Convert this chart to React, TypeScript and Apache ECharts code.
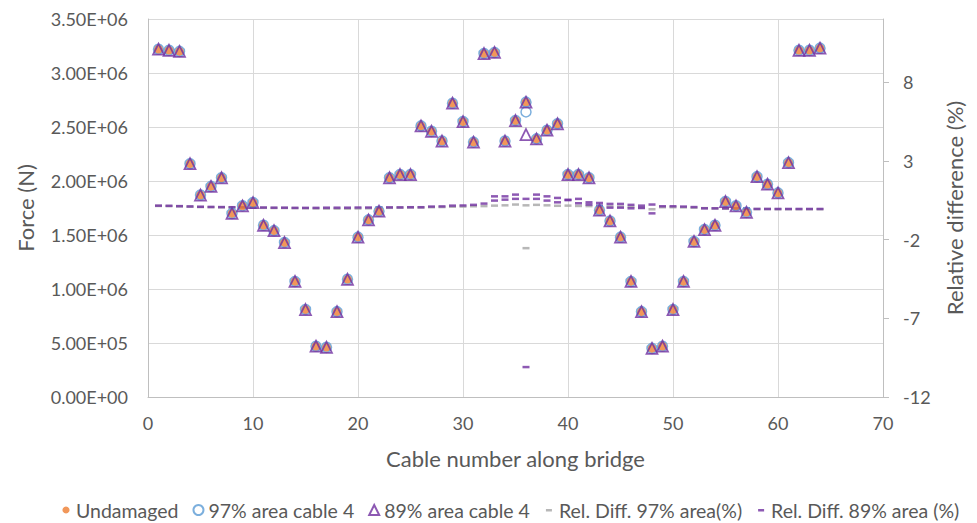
import React, { useEffect, useRef } from "react";
import * as echarts from "echarts";

// Cable numbers along the bridge
const cableNumbers = [
  1, 2, 3, 4, 5, 6, 7, 8, 9, 10, 11, 12, 13, 14, 15, 16,
  17, 18, 19, 20, 21, 22, 23, 24, 25, 26, 27, 28, 29, 30, 31, 32,
  33, 34, 35, 36, 37, 38, 39, 40, 41, 42, 43, 44, 45, 46, 47, 48,
  49, 50, 51, 52, 53, 54, 55, 56, 57, 58, 59, 60, 61, 62, 63, 64,
];

// Cable forces (N)
const forceUndamaged = [
  3.22e6, 3.21e6, 3.2e6, 2.16e6, 1.87e6, 1.95e6, 2.03e6, 1.7e6, 1.77e6, 1.8e6, 1.59e6, 1.54e6, 1.43e6, 1.07e6, 0.81e6, 0.47e6,
  0.46e6, 0.79e6, 1.09e6, 1.48e6, 1.64e6, 1.72e6, 2.03e6, 2.06e6, 2.06e6, 2.51e6, 2.46e6, 2.37e6, 2.72e6, 2.55e6, 2.36e6, 3.18e6,
  3.19e6, 2.37e6, 2.56e6, 2.73e6, 2.39e6, 2.47e6, 2.53e6, 2.06e6, 2.06e6, 2.03e6, 1.73e6, 1.63e6, 1.48e6, 1.07e6, 0.79e6, 0.45e6,
  0.47e6, 0.81e6, 1.07e6, 1.44e6, 1.55e6, 1.59e6, 1.81e6, 1.77e6, 1.71e6, 2.04e6, 1.97e6, 1.89e6, 2.17e6, 3.21e6, 3.21e6, 3.23e6,
];
const force97 = [
  3.22e6, 3.21e6, 3.2e6, 2.16e6, 1.87e6, 1.95e6, 2.03e6, 1.7e6, 1.77e6, 1.8e6, 1.59e6, 1.54e6, 1.43e6, 1.07e6, 0.81e6, 0.47e6,
  0.46e6, 0.79e6, 1.09e6, 1.48e6, 1.64e6, 1.72e6, 2.03e6, 2.06e6, 2.06e6, 2.51e6, 2.46e6, 2.37e6, 2.72e6, 2.55e6, 2.36e6, 3.18e6,
  3.19e6, 2.37e6, 2.56e6, 2.64e6, 2.39e6, 2.47e6, 2.53e6, 2.06e6, 2.06e6, 2.03e6, 1.73e6, 1.63e6, 1.48e6, 1.07e6, 0.79e6, 0.45e6,
  0.47e6, 0.81e6, 1.07e6, 1.44e6, 1.55e6, 1.59e6, 1.81e6, 1.77e6, 1.71e6, 2.04e6, 1.97e6, 1.89e6, 2.17e6, 3.21e6, 3.21e6, 3.23e6,
];
const force89 = [
  3.22e6, 3.21e6, 3.2e6, 2.16e6, 1.87e6, 1.95e6, 2.03e6, 1.7e6, 1.77e6, 1.8e6, 1.59e6, 1.54e6, 1.43e6, 1.07e6, 0.81e6, 0.47e6,
  0.46e6, 0.79e6, 1.09e6, 1.48e6, 1.64e6, 1.72e6, 2.03e6, 2.06e6, 2.06e6, 2.51e6, 2.46e6, 2.37e6, 2.72e6, 2.55e6, 2.36e6, 3.18e6,
  3.19e6, 2.37e6, 2.56e6, 2.43e6, 2.39e6, 2.47e6, 2.53e6, 2.06e6, 2.06e6, 2.03e6, 1.73e6, 1.63e6, 1.48e6, 1.07e6, 0.79e6, 0.45e6,
  0.47e6, 0.81e6, 1.07e6, 1.44e6, 1.55e6, 1.59e6, 1.81e6, 1.77e6, 1.71e6, 2.04e6, 1.97e6, 1.89e6, 2.17e6, 3.21e6, 3.21e6, 3.23e6,
];
// Second marker drawn at cable 36 (same position as the undamaged value)
const force97Second = [
  null, null, null, null, null, null, null, null, null, null, null, null, null, null, null, null,
  null, null, null, null, null, null, null, null, null, null, null, null, null, null, null, null,
  null, null, null, 2.73e6, null, null, null, null, null, null, null, null, null, null, null, null,
  null, null, null, null, null, null, null, null, null, null, null, null, null, null, null, null,
];
const force89Second = [
  null, null, null, null, null, null, null, null, null, null, null, null, null, null, null, null,
  null, null, null, null, null, null, null, null, null, null, null, null, null, null, null, null,
  null, null, null, 2.73e6, null, null, null, null, null, null, null, null, null, null, null, null,
  null, null, null, null, null, null, null, null, null, null, null, null, null, null, null, null,
];

// Relative differences (%)
const relDiff97 = [
  0.13, 0.12, 0.1, 0.08, 0.06, 0.05, 0.04, 0.03, 0.03, 0.02, 0.01, 0.0, 0.0, -0.01, -0.02, -0.03,
  -0.04, -0.04, -0.04, -0.03, -0.02, 0.0, 0.01, 0.02, 0.03, 0.03, 0.05, 0.06, 0.08, 0.09, 0.11, 0.12,
  0.15, 0.17, 0.22, -2.55, 0.2, 0.17, 0.14, 0.15, 0.13, 0.12, 0.1, 0.1, 0.09, 0.07, 0.03, -0.08,
  0.05, 0.05, 0.04, 0.02, -0.01, -0.03, -0.04, -0.05, -0.06, -0.07, -0.07, -0.08, -0.08, -0.08, -0.08, -0.08,
];
const relDiff89 = [
  0.15, 0.14, 0.12, 0.1, 0.08, 0.07, 0.06, 0.05, 0.05, 0.04, 0.03, 0.02, 0.02, 0.01, 0.01, 0.01,
  0.02, 0.02, 0.02, 0.03, 0.03, 0.04, 0.04, 0.04, 0.05, 0.05, 0.09, 0.1, 0.15, 0.16, 0.2, 0.28,
  0.47, 0.53, 0.58, -10.1, 0.58, 0.47, 0.36, 0.51, 0.3, 0.22, 0.15, 0.02, 0.02, -0.02, 0.0, -0.34,
  0.11, 0.11, 0.09, 0.06, -0.02, -0.02, -0.02, -0.02, -0.03, -0.06, -0.06, -0.06, -0.06, -0.06, -0.06, -0.06,
];
// Additional relative-difference markers visible in the plot
const relDiff89Second = [
  null, null, null, null, null, null, null, null, null, null, null, null, null, null, null, null,
  null, null, null, null, null, null, null, null, null, null, null, null, null, null, null, null,
  0.74, 0.74, 0.85, 0.58, 0.85, 0.74, 0.64, 0.51, 0.58, 0.36, 0.32, 0.26, 0.26, 0.2, 0.15, 0.22,
  null, null, null, null, null, null, null, null, null, null, null, null, null, null, null, null,
];
const relDiff97Second = [
  null, null, null, null, null, null, null, null, null, null, null, null, null, null, null, null,
  null, null, null, null, null, null, null, null, null, null, null, null, null, null, null, null,
  null, null, null, 0.17, null, null, null, null, null, null, null, null, null, null, null, null,
  null, null, null, null, null, null, null, null, null, null, null, null, null, null, null, null,
];

const FONT = "Lato, 'Open Sans', sans-serif";
const TEXT = "#595959";
const ORANGE = "#ED7D31";
const BLUE = "#5B9BD5";
const PURPLE = "#7030A0";
const GRAY = "#A5A5A5";

const pairs = (vals: (number | null)[]) =>
  cableNumbers
    .map((n, i) => [n, vals[i]])
    .filter((p) => p[1] !== null && p[1] !== undefined);

const sci = (v: number) => {
  const [m, e] = v.toExponential(2).split("e");
  const sign = e[0] === "-" ? "-" : "+";
  const digits = e.replace(/^[+-]/, "").padStart(2, "0");
  return `${m}E${sign}${digits}`;
};

const dashIcon = "path://M0,0 M10,10 M2,4 L8,4 L8,6.5 L2,6.5 Z";
const dotIcon = "path://M0,0 M10,10 M5,1.5 A3.5,3.5 0 1 1 4.99,1.5 Z";

export default function App() {
  const ref = useRef<HTMLDivElement>(null);

  useEffect(() => {
    if (!ref.current) return;
    const chart = echarts.init(ref.current, undefined, { renderer: "svg" });
    const option: any = {
      animation: false,
      backgroundColor: "#ffffff",
      textStyle: { fontFamily: FONT, color: TEXT },
      grid: { left: 148, right: 94, top: 19, bottom: 126, containLabel: false },
      legend: {
        left: 56,
        top: 495,
        itemWidth: 10,
        itemHeight: 10,
        itemGap: 14,
        textStyle: { fontFamily: FONT, fontSize: 19.5, color: TEXT },
        data: [
          { name: "Undamaged", icon: dotIcon },
          { name: "97% area cable 4", icon: "circle" },
          { name: "89% area cable 4", icon: "triangle" },
          { name: "Rel. Diff. 97% area(%)", icon: dashIcon },
          { name: "Rel. Diff. 89% area (%)", icon: dashIcon },
        ],
      },
      xAxis: {
        type: "value",
        min: 0,
        max: 70,
        interval: 10,
        name: "Cable number along bridge",
        nameLocation: "middle",
        nameGap: 50,
        nameTextStyle: { fontFamily: FONT, fontSize: 22, color: TEXT },
        axisLine: { show: true, lineStyle: { color: "#BFBFBF", width: 1 } },
        axisTick: { show: false },
        axisLabel: { margin: 17, fontSize: 18, color: TEXT, fontFamily: FONT },
        splitLine: { show: true, lineStyle: { color: "#D9D9D9", width: 1 } },
      },
      yAxis: [
        {
          type: "value",
          min: 0,
          max: 3500000,
          interval: 500000,
          name: "Force (N)",
          nameLocation: "middle",
          nameRotate: 90,
          nameGap: 112,
          nameTextStyle: { fontFamily: FONT, fontSize: 22, color: TEXT },
          axisLine: { show: true, lineStyle: { color: "#BFBFBF", width: 1 } },
          axisTick: { show: false },
          axisLabel: { margin: 20, fontSize: 18, color: TEXT, fontFamily: FONT, formatter: (v: number) => sci(v) },
          splitLine: { show: true, lineStyle: { color: "#D9D9D9", width: 1 } },
        },
        {
          type: "value",
          position: "right",
          min: -12,
          max: 12,
          interval: 5,
          name: "Relative difference (%)",
          nameLocation: "middle",
          nameRotate: 90,
          nameGap: 60,
          nameTextStyle: { fontFamily: FONT, fontSize: 22, color: TEXT },
          axisLine: { show: true, lineStyle: { color: "#BFBFBF", width: 1 } },
          axisTick: { show: true, inside: false, length: 6, lineStyle: { color: "#BFBFBF" } },
          axisLabel: { margin: 20, fontSize: 18, color: TEXT, fontFamily: FONT, showMaxLabel: false },
          splitLine: { show: false },
        },
      ],
      series: [
        {
          name: "Rel. Diff. 97% area(%)",
          type: "scatter",
          yAxisIndex: 1,
          symbol: "rect",
          symbolSize: [7, 2.5],
          itemStyle: { color: GRAY },
          data: [...pairs(relDiff97), ...pairs(relDiff97Second)],
          z: 2,
        },
        {
          name: "Rel. Diff. 89% area (%)",
          type: "scatter",
          yAxisIndex: 1,
          symbol: "rect",
          symbolSize: [7, 2.5],
          itemStyle: { color: PURPLE },
          data: [...pairs(relDiff89), ...pairs(relDiff89Second)],
          z: 3,
        },
        {
          name: "Undamaged",
          type: "scatter",
          symbol: "circle",
          symbolSize: 9,
          itemStyle: { color: ORANGE },
          data: pairs(forceUndamaged),
          z: 4,
        },
        {
          name: "97% area cable 4",
          type: "scatter",
          symbol: "circle",
          symbolSize: 10,
          itemStyle: { color: "rgba(255,255,255,0)", borderColor: BLUE, borderWidth: 1.5 },
          data: [...pairs(force97), ...pairs(force97Second)],
          z: 5,
        },
        {
          name: "89% area cable 4",
          type: "scatter",
          symbol: "triangle",
          symbolSize: 11,
          itemStyle: { color: "rgba(255,255,255,0)", borderColor: PURPLE, borderWidth: 1.75 },
          data: [...pairs(force89), ...pairs(force89Second)],
          z: 6,
        },
      ],
    };
    chart.setOption(option);
    return () => chart.dispose();
  }, []);

  return (
    <div
      ref={ref}
      style={{ position: "fixed", left: 0, top: 0, width: 977, height: 523, background: "#fff" }}
    />
  );
}
